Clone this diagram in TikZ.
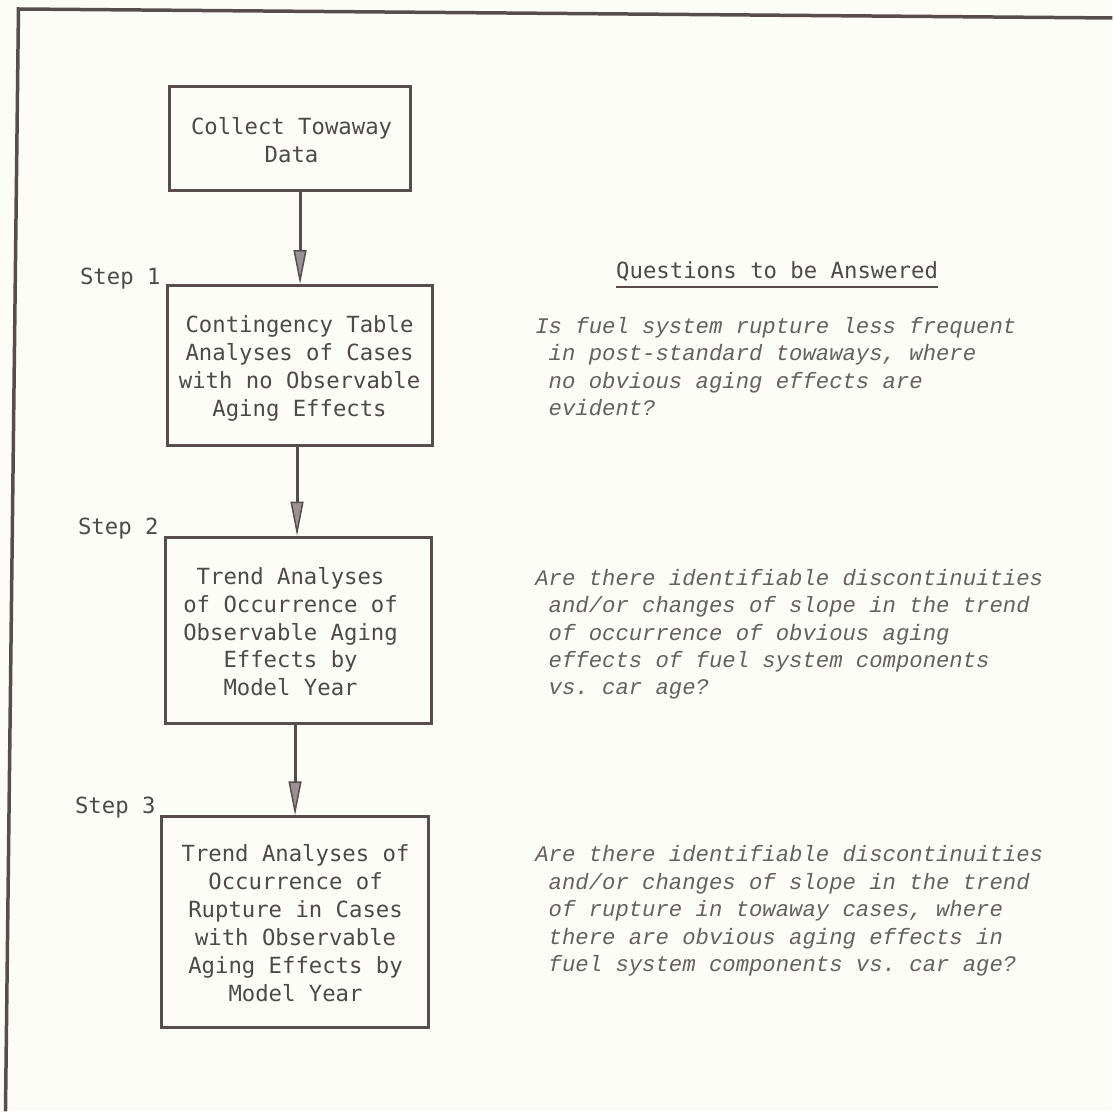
\documentclass[tikz,border=0pt]{standalone}
\usepackage{fontspec}
\newfontfamily\boxfont{DejaVu Sans Mono}
\newfontfamily\qfont{Liberation Mono}
\usetikzlibrary{arrows.meta}
\frenchspacing
\definecolor{bg}{HTML}{FDFDF7}
\definecolor{ink}{HTML}{574D4D}
\definecolor{txt}{HTML}{4E4848}
\definecolor{qtxt}{HTML}{666060}
\definecolor{arrowfill}{HTML}{9A9292}
\tikzset{
  stepbox/.style={draw=ink, line width=3pt, inner sep=0pt, rectangle},
  boxtxt/.style={anchor=base, inner sep=0pt, text=txt, font={\boxfont\fontsize{22.3}{28}\selectfont}},
  steplabel/.style={anchor=base west, inner sep=0pt, text=txt, font={\boxfont\fontsize{22.3}{28}\selectfont}},
  qtext/.style={anchor=base west, inner sep=0pt, text=qtxt, font={\qfont\itshape\fontsize{22.3}{27.5}\selectfont}},
  conn/.style={draw=ink, line width=3pt, -{Triangle[length=34pt,width=13pt,fill=arrowfill,line width=1.5pt]}},
  frame/.style={draw=ink, line width=3.5pt}
}
\newcommand{\ind}{\hspace*{0.6em}}
\begin{document}
\begin{tikzpicture}[x=1pt,y=-1pt]
\fill[bg] (0,0) rectangle (1114,1113);
% frame
\coordinate (fbl) at (5.5,1113);
\coordinate (ftl) at (18.5,9);
\coordinate (ftr) at (1114,18);
\draw[frame] (fbl) -- (ftl) -- (ftr);

% boxes
\node[stepbox, minimum width=241pt, minimum height=104pt] (box0) at (290.5,139) {};
\node[stepbox, minimum width=265pt, minimum height=160pt] (box1) at (300.5,366) {};
\node[stepbox, minimum width=266pt, minimum height=187pt] (box2) at (299,631.5) {};
\node[stepbox, minimum width=267pt, minimum height=211pt] (box3) at (295.5,923.5) {};

% box texts
\node[boxtxt] (t0) at (292,135) {\begin{tabular}[t]{@{}c@{}}Collect Towaway\\Data\end{tabular}};
\node[boxtxt] (t1) at (300,333) {\begin{tabular}[t]{@{}c@{}}Contingency Table\\Analyses of Cases\\with no Observable\\Aging Effects\end{tabular}};
\node[boxtxt] (t2) at (291,585) {\begin{tabular}[t]{@{}c@{}}Trend Analyses\\of Occurrence of\\Observable Aging\\Effects by\\Model Year\end{tabular}};
\node[boxtxt] (t3) at (296,863) {\begin{tabular}[t]{@{}c@{}}Trend Analyses of\\Occurrence of\\Rupture in Cases\\with Observable\\Aging Effects by\\Model Year\end{tabular}};

% connectors
\draw[conn] (box1.north |- box0.south) -- (box1.north);
\draw[conn] ([xshift=-3pt]box1.south) -- ([xshift=-3pt]box1.south |- box2.north);
\draw[conn] (box3.north |- box2.south) -- (box3.north);

% step labels
\node[steplabel] (s1) at (80,285) {Step 1};
\node[steplabel] (s2) at (78,535) {Step 2};
\node[steplabel] (s3) at (75,815) {Step 3};

% heading
\node[steplabel] (head) at (617,279) {Questions to be Answered};
\draw[draw=ink, line width=2pt] ([yshift=-8pt]head.base west) -- ([yshift=-8pt]head.base east);

% questions
\node[qtext] (q1) at (536,334) {\begin{tabular}[t]{@{}l@{}}Is fuel system rupture less frequent\\\ind in post-standard towaways, where\\\ind no obvious aging effects are\\\ind evident?\end{tabular}};
\node[qtext] (q2) at (536,586) {\begin{tabular}[t]{@{}l@{}}Are there identifiable discontinuities\\\ind and/or changes of slope in the trend\\\ind of occurrence of obvious aging\\\ind effects of fuel system components\\\ind vs. car age?\end{tabular}};
\node[qtext] (q3) at (536,863) {\begin{tabular}[t]{@{}l@{}}Are there identifiable discontinuities\\\ind and/or changes of slope in the trend\\\ind of rupture in towaway cases, where\\\ind there are obvious aging effects in\\\ind fuel system components vs. car age?\end{tabular}};
\end{tikzpicture}
\end{document}
